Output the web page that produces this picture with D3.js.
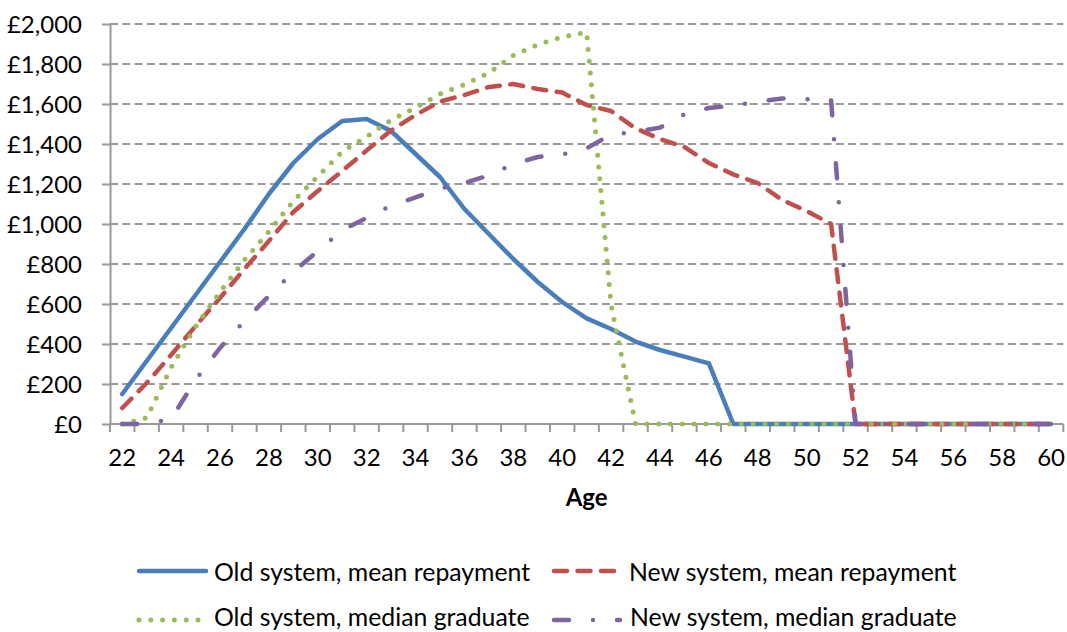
<!DOCTYPE html>
<html><head><meta charset="utf-8">
<script src="https://cdn.jsdelivr.net/npm/d3@7"></script>
<style>
body{margin:0;background:#fff}
text{font-family:Lato,"Open Sans",sans-serif;fill:#000}
</style></head>
<body>
<svg id="chart" width="1067" height="632"></svg>
<script>
// ---- data ----
const ages = d3.range(22, 61);
const xTickLabels = ages.filter(a => a % 2 === 0);
const yTicks = [0, 200, 400, 600, 800, 1000, 1200, 1400, 1600, 1800, 2000];
const oldMean = [150, 315, 480, 645, 810, 975, 1150, 1305, 1425, 1515, 1525, 1465, 1350, 1235, 1075, 950, 825, 710, 610, 528, 475, 412, 370, 337, 303,
  0, 0, 0, 0, 0, 0, 0, 0, 0, 0, 0, 0, 0, 0];
const newMean = [80, 205, 345, 490, 630, 775, 915, 1060, 1165, 1265, 1368, 1468, 1545, 1612, 1645, 1685, 1700, 1675, 1657, 1595, 1565, 1478, 1425, 1385, 1305, 1248, 1205, 1120, 1065, 1000,
  0, 0, 0, 0, 0, 0, 0, 0, 0];
const oldMedian = [0, 30, 283, 487, 660, 820, 962, 1115, 1238, 1362, 1437, 1520, 1582, 1650, 1697, 1755, 1843, 1897, 1935, 1958, 595,
  0, 0, 0, 0, 0, 0, 0, 0, 0, 0, 0, 0, 0, 0, 0, 0, 0, 0];
const newMedian = [0, 0, 25, 220, 380, 515, 640, 760, 865, 970, 1030, 1092, 1133, 1178, 1205, 1243, 1300, 1335, 1348, 1378, 1448, 1460, 1482, 1548, 1580, 1592, 1612, 1628, 1624, 1620,
  0, 0, 0, 0, 0, 0, 0, 0, 0];
const seriesNames = ["Old system, mean repayment", "New system, mean repayment", "Old system, median graduate", "New system, median graduate"];
const xTitle = "Age";

// ---- styles / layout ----
const series = [
  {name: seriesNames[0], values: oldMean, color: "#4a7ebb", dash: null, w: 4.5},
  {name: seriesNames[1], values: newMean, color: "#c0504d", dash: "13,10.5", w: 4.5},
  {name: seriesNames[2], values: oldMedian, color: "#9bbb59", dash: "0,11.8", w: 5},
  {name: seriesNames[3], values: newMedian, color: "#8064a2", dash: "15,24,0,24", w: 4.5}
];
const L = 110, R = 1063.3, T = 24, B = 424;
const FS = 24, LFS = 24.8;
const svg = d3.select("#chart");
svg.append("rect").attr("width", 1067).attr("height", 632).attr("fill", "#fff");

const x = d3.scaleBand().domain(ages).range([L, R]).padding(0);
const xc = a => x(a) + x.bandwidth() / 2;
const y = d3.scaleLinear().domain([0, 2000]).range([B, T]);

// gridlines
svg.append("g").selectAll("line").data(yTicks.filter(v => v > 0)).join("line")
  .attr("x1", L).attr("x2", R).attr("y1", d => y(d)).attr("y2", d => y(d))
  .attr("stroke", "#999").attr("stroke-width", 2).attr("stroke-dasharray", "8,4.3");

// y axis
const ya = svg.append("g").attr("transform", `translate(${L},0)`)
  .call(d3.axisLeft(y).tickValues(yTicks).tickSize(8).tickSizeOuter(0).tickPadding(20)
    .tickFormat(d => "£" + d3.format(",")(d)));
ya.select(".domain").attr("stroke", "#999").attr("stroke-width", 2);
ya.selectAll(".tick line").attr("stroke", "#999").attr("stroke-width", 2);
ya.selectAll(".tick text").attr("font-size", FS).attr("font-family", "Lato").attr("dy", "0.35em");

// x axis
svg.append("line").attr("x1", L).attr("x2", R).attr("y1", B).attr("y2", B)
  .attr("stroke", "#999").attr("stroke-width", 2);
svg.append("g").selectAll("line").data(ages.concat([null])).join("line")
  .attr("x1", (d, i) => L + i * x.bandwidth()).attr("x2", (d, i) => L + i * x.bandwidth())
  .attr("y1", B).attr("y2", B + 8).attr("stroke", "#999").attr("stroke-width", 2);
const xa = svg.append("g").attr("transform", `translate(0,${B})`)
  .call(d3.axisBottom(x).tickValues(xTickLabels).tickSize(0).tickPadding(0));
xa.select(".domain").remove();
xa.selectAll(".tick text").attr("font-size", FS).attr("font-family", "Lato").attr("dy", 0).attr("y", 466 - B);

svg.append("text").attr("x", (L + R) / 2).attr("y", 506).attr("text-anchor", "middle")
  .attr("font-size", FS).attr("font-weight", "bold").text(xTitle);

// lines
const line = d3.line().x((d, i) => xc(ages[i])).y(d => y(d));
series.forEach(s => {
  svg.append("path").datum(s.values).attr("d", line)
    .attr("fill", "none").attr("stroke", s.color).attr("stroke-width", s.w)
    .attr("stroke-linecap", "round").attr("stroke-linejoin", "round")
    .attr("stroke-dasharray", s.dash);
});

// legend
const legPos = [
  {x1: 139, x2: 206, ty: 580.5, ly: 571, tx: 214},
  {x1: 554, x2: 620, ty: 580.5, ly: 571, tx: 629},
  {x1: 139, x2: 206, ty: 626, ly: 620, tx: 214},
  {x1: 554, x2: 620, ty: 626, ly: 620, tx: 630}
];
series.forEach((s, i) => {
  const p = legPos[i];
  const g = svg.append("g");
  g.append("line").attr("x1", p.x1).attr("x2", p.x2).attr("y1", p.ly).attr("y2", p.ly)
    .attr("stroke", s.color).attr("stroke-width", s.w).attr("stroke-linecap", "round")
    .attr("stroke-dasharray", s.dash);
  g.append("text").attr("x", p.tx).attr("y", p.ty).attr("font-size", LFS).text(s.name);
});
</script>
</body></html>
